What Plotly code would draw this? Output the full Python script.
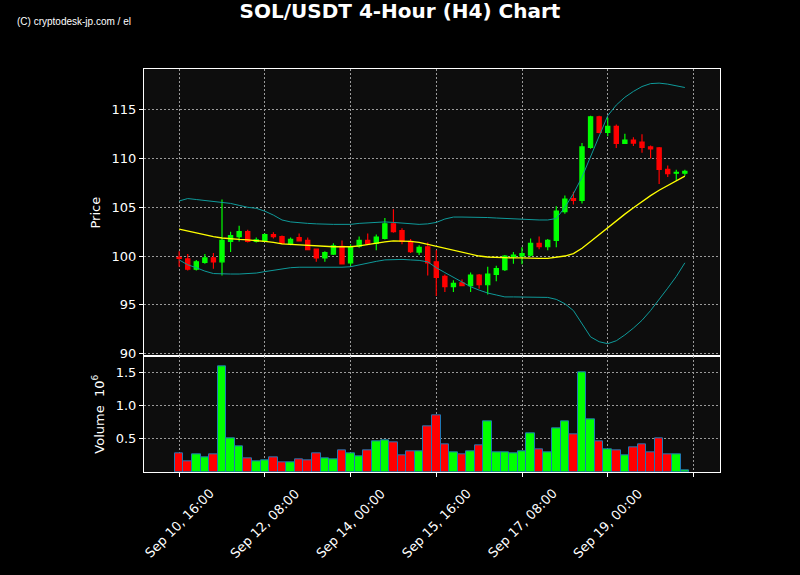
import plotly.graph_objects as go
from plotly.subplots import make_subplots

# ---- data ----
opens = [99.85, 99.7, 98.65, 99.35, 99.8, 99.4, 101.5, 102.0, 102.5, 101.5,
         101.5, 102.2, 102.0, 101.25, 101.9, 101.6, 100.7, 99.8, 100.2, 101.0,
         99.3, 101.0, 101.6, 101.3, 101.8, 103.3, 102.6, 101.5, 100.4, 100.95,
         99.4, 97.9, 96.85, 97.25, 96.95, 98.05, 97.05, 98.1, 98.6, 99.9,
         100.0, 100.1, 101.3, 100.95, 101.6, 104.55, 105.9, 105.7, 111.15, 114.3,
         112.7, 113.3, 111.55, 111.9, 111.7, 111.2, 111.1, 108.9, 108.5, 108.5]
highs = [100.5, 100.2, 99.6, 100.2, 100.3, 105.8, 102.5, 103.1, 102.7, 101.9,
         102.3, 102.45, 102.1, 101.9, 102.3, 101.9, 100.75, 100.5, 101.3, 101.6,
         101.2, 102.0, 102.3, 102.2, 103.9, 104.8, 102.85, 101.75, 101.1, 101.4,
         100.6, 98.1, 97.5, 97.6, 98.3, 98.15, 98.9, 99.0, 100.1, 100.4,
         100.9, 101.8, 102.0, 101.75, 105.1, 106.2, 106.6, 111.6, 114.4, 114.4,
         114.2, 113.5, 112.55, 112.2, 112.5, 111.35, 111.2, 109.3, 108.85, 108.85]
lows = [98.9, 98.5, 98.5, 99.2, 98.7, 98.0, 100.4, 101.5, 101.4, 101.4,
        101.45, 101.8, 101.2, 101.1, 101.5, 100.6, 99.4, 99.4, 100.1, 99.15,
        99.0, 100.85, 101.3, 100.6, 101.7, 102.4, 101.2, 100.3, 100.1, 98.0,
        95.9, 96.3, 96.3, 96.9, 96.3, 96.65, 96.05, 97.4, 98.45, 99.2,
        99.15, 99.95, 100.7, 100.6, 100.9, 104.35, 105.3, 105.4, 111.0, 112.6,
        112.3, 111.1, 111.5, 111.3, 110.6, 110.0, 107.4, 108.1, 107.75, 108.25]
closes = [99.75, 98.65, 99.4, 99.8, 99.4, 101.6, 102.1, 102.5, 101.5, 101.65,
          102.2, 102.0, 101.3, 101.7, 101.55, 100.65, 99.8, 100.35, 101.05, 99.2,
          100.95, 101.6, 101.3, 101.95, 103.3, 102.5, 101.5, 100.45, 100.9, 99.3,
          97.8, 96.85, 97.2, 96.95, 98.05, 97.05, 98.15, 98.7, 100.0, 100.1,
          100.25, 101.3, 100.95, 101.6, 104.6, 105.85, 105.7, 111.2, 114.3, 112.7,
          113.3, 111.55, 111.9, 111.6, 111.15, 111.0, 108.9, 108.45, 108.6, 108.7]
volumes_m = [0.288, 0.162, 0.273, 0.227, 0.273, 1.59, 0.5, 0.379, 0.212, 0.162,
             0.182, 0.227, 0.152, 0.152, 0.197, 0.18, 0.288, 0.212, 0.197, 0.333,
             0.288, 0.242, 0.333, 0.455, 0.47, 0.44, 0.258, 0.318, 0.318, 0.68,
             0.85, 0.41, 0.303, 0.273, 0.318, 0.394, 0.758, 0.303, 0.303, 0.288,
             0.318, 0.576, 0.348, 0.303, 0.65, 0.758, 0.56, 1.5, 0.788, 0.455,
             0.348, 0.333, 0.258, 0.364, 0.41, 0.303, 0.5, 0.273, 0.273, 0.03]
ma20 = [102.75, 102.55, 102.35, 102.15, 102.0, 101.85, 101.75, 101.7, 101.65, 101.6,
        101.5, 101.4, 101.25, 101.2, 101.15, 101.1, 101.0, 100.95, 100.95, 100.95,
        100.95, 101.05, 101.2, 101.3, 101.45, 101.55, 101.55, 101.5, 101.4, 101.2,
        101.05, 100.85, 100.6, 100.4, 100.2, 100.0, 99.9, 99.85, 99.8, 99.8,
        99.8, 99.75, 99.75, 99.75, 99.85, 100.0, 100.25, 100.8, 101.5, 102.2,
        102.9, 103.65, 104.3, 104.95, 105.6, 106.2, 106.75, 107.25, 107.7, 108.2]
bb_upper = [105.65, 105.9, 105.8, 105.7, 105.6, 105.5, 105.4, 105.2, 105.0, 104.9,
            104.6, 104.2, 103.7, 103.5, 103.4, 103.35, 103.3, 103.25, 103.25, 103.25,
            103.25, 103.35, 103.4, 103.45, 103.5, 103.45, 103.4, 103.3, 103.25, 103.3,
            103.45, 103.8, 104.0, 104.0, 104.0, 103.95, 103.95, 103.9, 103.85, 103.85,
            103.8, 103.75, 103.7, 103.7, 103.85, 105.0, 106.4, 108.1, 110.2, 112.4,
            114.4, 115.5, 116.3, 116.9, 117.4, 117.7, 117.75, 117.65, 117.5, 117.3]
bb_lower = [99.6, 99.1, 98.8, 98.45, 98.2, 98.15, 98.15, 98.15, 98.2, 98.25,
            98.4, 98.55, 98.65, 98.8, 98.85, 98.85, 98.8, 98.8, 98.8, 98.85,
            98.9, 99.1, 99.3, 99.45, 99.6, 99.65, 99.65, 99.6, 99.55, 99.4,
            98.8, 98.3, 97.8, 97.3, 96.85, 96.5, 96.2, 96.0, 95.8, 95.8,
            95.8, 95.8, 95.8, 95.75, 95.55, 95.1, 94.4, 93.0, 91.7, 91.2,
            91.0, 91.3, 91.9, 92.6, 93.4, 94.4, 95.5, 96.7, 97.9, 99.3]
tick_labels = ["Sep 10, 16:00", "Sep 12, 08:00", "Sep 14, 00:00",
               "Sep 15, 16:00", "Sep 17, 08:00", "Sep 19, 00:00"]
price_ticks = [90, 95, 100, 105, 110, 115]
volume_ticks = [0.5, 1.0, 1.5]

x = list(range(len(closes)))
tick_pos = list(range(0, 10 * (len(tick_labels) + 1), 10))   # last tick has no label
UP, DOWN = "#00ff00", "#ff0000"
vol_colors = [UP if c >= o else DOWN for o, c in zip(opens, closes)]

fig = make_subplots(rows=2, cols=1, shared_xaxes=True, vertical_spacing=0,
                    row_heights=[0.713, 0.287])

fig.add_trace(go.Scatter(x=x, y=bb_upper, mode="lines",
                         line=dict(color="#0f9a9a", width=1), hoverinfo="skip"), row=1, col=1)
fig.add_trace(go.Scatter(x=x, y=bb_lower, mode="lines",
                         line=dict(color="#0f9a9a", width=1), hoverinfo="skip"), row=1, col=1)
fig.add_trace(go.Scatter(x=x, y=ma20, mode="lines",
                         line=dict(color="#ffff00", width=1.3), hoverinfo="skip"), row=1, col=1)
fig.add_trace(go.Candlestick(x=x, open=opens, high=highs, low=lows, close=closes,
                             increasing=dict(line=dict(color=UP, width=1.2), fillcolor=UP),
                             decreasing=dict(line=dict(color=DOWN, width=1.2), fillcolor=DOWN),
                             whiskerwidth=0), row=1, col=1)
fig.add_trace(go.Bar(x=x, y=volumes_m, marker=dict(color=vol_colors,
                                                   line=dict(color="#1f77b4", width=1)),
                     width=1), row=2, col=1)

font = dict(family="DejaVu Sans", size=13, color="white")
GRID = "#9a9a9a"
DASH = "2px,2px"
axis_common = dict(showline=True, linecolor="white", linewidth=1, mirror=True,
                   gridcolor=GRID, griddash=DASH, gridwidth=1,
                   tickfont=font, ticks="outside", tickcolor="white", ticklen=4,
                   zeroline=False)

fig.update_xaxes(**axis_common, range=[-4.1, 63.1], tickvals=tick_pos,
                 showticklabels=False, rangeslider=dict(visible=False))
fig.update_xaxes(ticks="", row=1, col=1)
fig.update_yaxes(**axis_common)
fig.update_yaxes(range=[89.7, 119.2], tickvals=price_ticks,
                 title=dict(text="Price", font=font, standoff=8), row=1, col=1)
fig.update_yaxes(range=[0, 1.74], tickvals=volume_ticks,
                 ticktext=[f"{v:.1f}" for v in volume_ticks],
                 title=dict(text="Volume  10<sup>6</sup>", font=font, standoff=8),
                 row=2, col=1)

# rotated date labels, centred under their ticks (matplotlib style)
annotations = [dict(text=lab, x=pos, xref="x2", y=0, yref="y2 domain",
                    xanchor="center", yanchor="top", yshift=-11, textangle=-45,
                    showarrow=False, font=font)
               for pos, lab in zip(tick_pos, tick_labels)]
annotations.append(dict(text="(C) cryptodesk-jp.com / el", xref="paper", yref="paper",
                        x=-0.224, y=1.119, xanchor="left", yanchor="middle",
                        showarrow=False,
                        font=dict(family="Liberation Sans", size=10, color="white")))

fig.update_layout(
    width=800, height=575,
    margin=dict(l=144, r=80, t=69, b=103),
    paper_bgcolor="black", plot_bgcolor="#0d0d0d",
    showlegend=False, bargap=0,
    font=font,
    title=dict(text="<b>SOL/USDT 4-Hour (H4) Chart</b>", x=0.5, xanchor="center",
               y=0.981, yanchor="middle", yref="container",
               font=dict(family="DejaVu Sans", size=20, color="white")),
    annotations=annotations,
)

fig.write_html("out.html", config={"displayModeBar": False},
               post_script="document.body.style.margin='0';document.body.style.background='black';")
